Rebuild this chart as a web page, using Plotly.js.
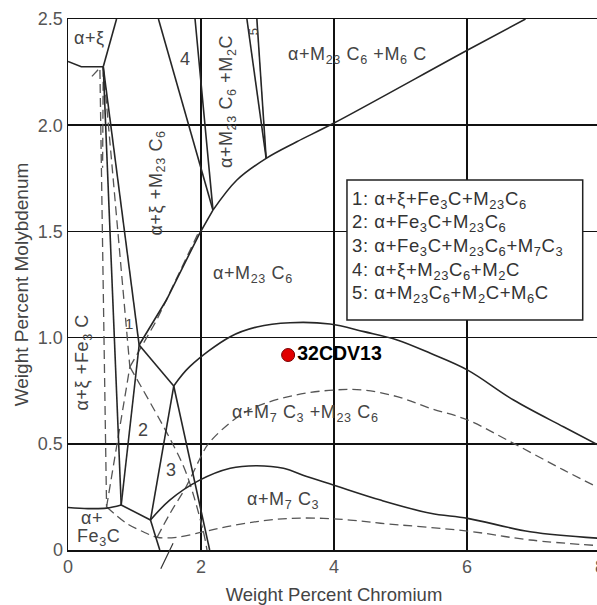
<!DOCTYPE html>
<html><head><meta charset="utf-8">
<script src="https://cdn.plot.ly/plotly-3.0.1.min.js"></script>
<style>html,body{margin:0;padding:0;overflow:hidden;background:#fff}#chart{width:602px;height:605px}
.annotation-text{letter-spacing:0.6px}</style>
</head><body><div id="chart"></div>
<script>
// ---- axis ticks ----
const xTicks = [0, 2, 4, 6, 8];
const xTickText = ['0', '2', '4', '6', '8'];
const yTicks = [0, 0.5, 1.0, 1.5, 2.0, 2.5];
const yTickText = ['0', '0.5', '1.0', '1.5', '2.0', '2.5'];

// ---- solid phase boundaries (wt% Cr, wt% Mo) ----
const s1Cr = [0, 0.20, 0.53];            const s1Mo = [2.30, 2.275, 2.275];
const s2Cr = [0.53, 0.73];               const s2Mo = [2.275, 2.5];
const s3Cr = [0.53, 0.80];               const s3Mo = [2.275, 0.212];
const s4Cr = [0.53, 1.07];               const s4Mo = [2.275, 0.965];
const s5Cr = [1.07, 0.80];               const s5Mo = [0.965, 0.212];
const s6Cr = [1.07, 1.59];               const s6Mo = [0.965, 0.772];
const s7Cr = [1.59, 2.13];               const s7Mo = [0.772, 0];
const s8Cr = [1.24, 1.59];               const s8Mo = [0.141, 0.772];
const s9Cr = [0.80, 1.24];               const s9Mo = [0.212, 0.141];
const s10Cr = [1.24, 1.38];              const s10Mo = [0.141, 0];
const s11Cr = [0, 0.30, 0.58, 0.80];     const s11Mo = [0.20, 0.195, 0.197, 0.212];
const s12Cr = [1.59, 1.83, 2.44, 2.84, 3.34, 3.94, 4.45, 4.95, 5.45, 6.01, 6.70, 7.45, 8.0];
const s12Mo = [0.772, 0.863, 1.004, 1.05, 1.07, 1.064, 1.028, 0.989, 0.926, 0.847, 0.706, 0.58, 0.49];
const s13Cr = [1.24, 1.53, 1.98, 2.44, 2.84, 3.24, 3.59, 4.0, 4.70, 5.45, 6.01, 6.95, 8.0];
const s13Mo = [0.141, 0.235, 0.329, 0.385, 0.397, 0.385, 0.346, 0.305, 0.235, 0.173, 0.149, 0.086, 0.055];
const s14Cr = [1.07, 1.48, 1.98, 2.18];  const s14Mo = [0.965, 1.177, 1.491, 1.60];
const s15Cr = [2.18, 2.54, 2.98, 3.44, 4.0, 6.01, 6.88];
const s15Mo = [1.60, 1.742, 1.844, 1.922, 2.01, 2.354, 2.5];
const s16Cr = [1.36, 2.18];              const s16Mo = [2.5, 1.60];
const s17Cr = [1.91, 2.18];              const s17Mo = [2.5, 1.60];
const s18Cr = [2.69, 2.98];              const s18Mo = [2.5, 1.844];
const s19Cr = [2.84, 2.98];              const s19Mo = [2.5, 1.844];

// ---- dashed boundaries ----
const d0Cr = [0.36, 0.48];               const d0Mo = [2.23, 2.27];
const d1Cr = [0.48, 0.58];               const d1Mo = [2.26, 0.203];
const d1bCr = [0.53, 0.52];              const d1bMo = [2.27, 1.80];
const d2Cr = [0.53, 0.93];               const d2Mo = [2.275, 0.862];
const d3Cr = [0.93, 1.54, 1.78, 2.03, 2.09];
const d3Mo = [0.862, 0.52, 0.36, 0.094, 0];
const d4Cr = [0.58, 0.93];               const d4Mo = [0.203, 0.862];
const d5Cr = [0.93, 1.33, 1.97];         const d5Mo = [0.862, 1.08, 1.50];
const d6Cr = [0.58, 0.88, 1.13, 1.34, 1.64, 2.04, 2.39, 2.84, 3.34, 3.84, 4.24, 4.70, 6.01, 6.95, 8.0];
const d6Mo = [0.203, 0.126, 0.086, 0.06, 0.06, 0.086, 0.110, 0.134, 0.149, 0.149, 0.141, 0.126, 0.089, 0.047, 0.02];
const d8Cr = [1.34, 1.53, 1.78, 2.0, 2.11, 2.49, 2.84, 3.43, 3.99, 4.45, 4.95, 5.45, 6.01, 6.70, 7.45, 8.0];
const d8Mo = [0.06, 0.17, 0.30, 0.44, 0.5, 0.612, 0.676, 0.730, 0.753, 0.753, 0.722, 0.667, 0.612, 0.502, 0.377, 0.29];

// ---- sample point ----
const sampleCr = [3.31];
const sampleMo = [0.918];
const sampleName = ['32CDV13'];

// ---- legend key ----
const keyLines = [
  '1: α+ξ+Fe<sub>3</sub>C+M<sub>23</sub>C<sub>6</sub>',
  '2: α+Fe<sub>3</sub>C+M<sub>23</sub>C<sub>6</sub>',
  '3: α+Fe<sub>3</sub>C+M<sub>23</sub>C<sub>6</sub>+M<sub>7</sub>C<sub>3</sub>',
  '4: α+ξ+M<sub>23</sub>C<sub>6</sub>+M<sub>2</sub>C',
  '5: α+M<sub>23</sub>C<sub>6</sub>+M<sub>2</sub>C+M<sub>6</sub>C'
];

const FONT = 'Liberation Sans, Arial, Helvetica, sans-serif';
const SOLID = {color: '#262626', width: 1.6};
const DASH = {color: '#555', width: 1.3, dash: '9px,5px'};

function solid(x, y, curved) {
  return {x: x, y: y, type: 'scatter', mode: 'lines', hoverinfo: 'skip', showlegend: false,
    line: Object.assign({shape: curved ? 'spline' : 'linear', smoothing: 1}, SOLID)};
}
function dashed(x, y, curved) {
  return {x: x, y: y, type: 'scatter', mode: 'lines', hoverinfo: 'skip', showlegend: false,
    line: Object.assign({shape: curved ? 'spline' : 'linear', smoothing: 1}, DASH)};
}

const traces = [
  dashed(d0Cr, d0Mo), dashed(d1Cr, d1Mo), dashed(d1bCr, d1bMo), dashed(d2Cr, d2Mo),
  dashed(d3Cr, d3Mo, true), dashed(d4Cr, d4Mo), dashed(d5Cr, d5Mo),
  dashed(d6Cr, d6Mo, true), dashed(d8Cr, d8Mo, true),
  solid(s1Cr, s1Mo), solid(s2Cr, s2Mo), solid(s3Cr, s3Mo), solid(s4Cr, s4Mo),
  solid(s5Cr, s5Mo), solid(s6Cr, s6Mo), solid(s7Cr, s7Mo), solid(s8Cr, s8Mo),
  solid(s9Cr, s9Mo), solid(s10Cr, s10Mo), solid(s11Cr, s11Mo, true),
  solid(s12Cr, s12Mo, true), solid(s13Cr, s13Mo, true), solid(s14Cr, s14Mo),
  solid(s15Cr, s15Mo, true), solid(s16Cr, s16Mo), solid(s17Cr, s17Mo),
  solid(s18Cr, s18Mo), solid(s19Cr, s19Mo),
  {x: sampleCr, y: sampleMo, text: sampleName.map(s => '<b>' + s + '</b>'),
   type: 'scatter', mode: 'markers+text', textposition: 'middle right', hoverinfo: 'skip', showlegend: false,
   cliponaxis: false,
   marker: {size: 13, color: '#e10000', line: {color: '#700', width: 1}},
   textfont: {family: FONT, size: 19.5, color: '#000'}}
];

const LBL = {family: FONT, size: 18, color: '#444'};
function lbl(text, x, y, extra) {
  return Object.assign({text: text, x: x, y: y, xref: 'x', yref: 'y', showarrow: false, font: LBL}, extra || {});
}

const annotations = [
  lbl('α+ξ', 0.32, 2.41),
  lbl('4', 1.76, 2.31),
  lbl('α+M<sub>23</sub> C<sub>6</sub> +M<sub>2</sub>C', 2.41, 2.11, {textangle: -90}),
  lbl('5', 2.79, 2.44, {textangle: -90, font: {family: FONT, size: 13, color: '#444'}}),
  lbl('α+M<sub>23</sub> C<sub>6</sub> +M<sub>6</sub> C', 4.36, 2.33),
  lbl('α+ξ +M<sub>23</sub> C<sub>6</sub>', 1.34, 1.726, {textangle: -90}),
  lbl('α+M<sub>23</sub> C<sub>6</sub>', 2.78, 1.295),
  lbl('α+ξ +Fe<sub>3</sub> C', 0.24, 0.887, {textangle: -90}),
  lbl('1', 0.93, 1.067, {font: {family: FONT, size: 15, color: '#444'}}),
  lbl('2', 1.13, 0.565),
  lbl('3', 1.56, 0.377),
  lbl('α+', 0.17, 0.15, {xanchor: 'left'}),
  lbl('Fe<sub>3</sub>C', 0.10, 0.058, {xanchor: 'left'}),
  lbl('α+M<sub>7</sub> C<sub>3</sub> +M<sub>23</sub> C<sub>6</sub>', 3.57, 0.645),
  lbl('α+M<sub>7</sub> C<sub>3</sub>', 3.23, 0.235),
  lbl('α+Fe<sub>3</sub>C+M<sub>7</sub>C<sub>3</sub>', 1.0, -0.149),
  {text: '', x: 1.58, y: 0.032, xref: 'x', yref: 'y', showarrow: true, arrowhead: 0,
   arrowwidth: 1.2, arrowcolor: '#333', ax: -13, ay: 27, standoff: 0, startstandoff: 0}
];
const keyY = [1.647, 1.538, 1.426, 1.314, 1.204];
keyLines.forEach((t, i) => annotations.push(lbl(t, 4.24, keyY[i], {xanchor: 'left', font: {family: FONT, size: 18.5, color: '#333'}})));

const layout = {
  width: 602, height: 605,
  margin: {l: 68, r: 2, t: 19, b: 55},
  paper_bgcolor: '#fff', plot_bgcolor: '#fff',
  showlegend: false,
  xaxis: {range: [0, 8], tickvals: xTicks, ticktext: xTickText, showgrid: true, gridcolor: '#111', gridwidth: 1.5,
    showline: true, mirror: true, linecolor: '#111', linewidth: 1.5, zeroline: false, ticks: '',
    ticklabeloverflow: 'allow',
    tickfont: {family: FONT, size: 18, color: '#555'},
    title: {text: 'Weight Percent Chromium', font: {family: FONT, size: 18.5, color: '#444'}, standoff: 12}},
  yaxis: {range: [0, 2.5], tickvals: yTicks, ticktext: yTickText, showgrid: true, gridcolor: '#111', gridwidth: 1.5,
    showline: true, mirror: true, linecolor: '#111', linewidth: 1.5, zeroline: false, ticks: '',
    tickfont: {family: FONT, size: 18, color: '#555'},
    title: {text: 'Weight Percent Molybdenum', font: {family: FONT, size: 19, color: '#444'}, standoff: 4}},
  shapes: [{type: 'rect', xref: 'x', yref: 'y', x0: 4.195, x1: 7.74, y0: 1.083, y1: 1.742,
    fillcolor: '#fff', line: {color: '#222', width: 1.5}, layer: 'above'}],
  annotations: annotations
};

Plotly.newPlot('chart', traces, layout, {staticPlot: true, displayModeBar: false});
</script></body></html>
